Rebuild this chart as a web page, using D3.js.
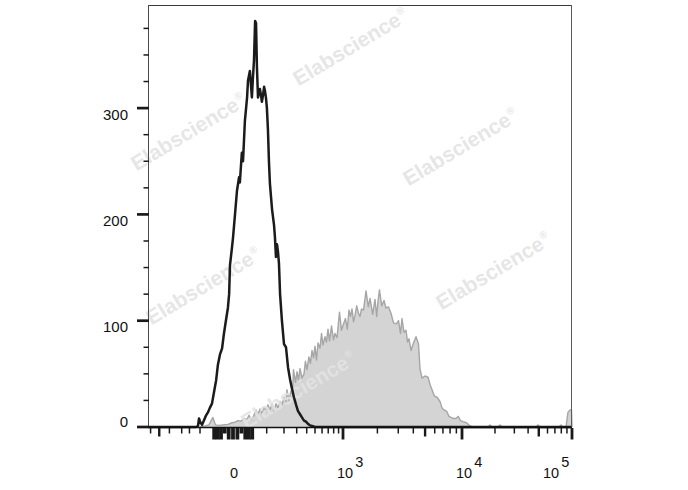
<!DOCTYPE html>
<html>
<head>
<meta charset="utf-8">
<script src="https://cdn.jsdelivr.net/npm/d3@7"></script>
<style>
  body { margin: 0; background: #fff; }
  svg { display: block; }
  text { font-family: "Liberation Sans", Arial, Helvetica, sans-serif; }
</style>
</head>
<body>
<svg id="chart" width="688" height="490"></svg>
<script>
// ---------------- data ----------------
// Isotype control (black outline histogram): fluorescence value, event count
const isotypeX = [-620,-134,-116,-108,-100,-92,-85,-77,-70,-64,-57,-51,-44,-39,-33,-27,-22,-17,-12,-9,-7,-2,0,4.5,9,14,16,21,24,29,35,37.6,43,49,52,55.5,59,62,65,68.5,72,75,79,82,86,90,93.5,97,101,106,111,116,127,138,143,149,155,161,167,174,186,200,214,229,244,260,276,294,312,331,350,371,392,414,438,462,500,100000];
const isotypeCount = [0,0,1,8,5,2,6,11,14,18,22,32,44,58,68,74,88,100,112,125,152,170,178,200,222,235,230,258,250,288,310,326,335,310,328,345,382,380,338,310,314,318,312,306,312,320,316,310,300,280,250,229,205,190,179,160,172,165,154,125,100,78,75,56,45,36,28,21,15,12,9,6,5,3,1.5,1,0,0];

// Stained sample (grey filled histogram): fluorescence value, event count
const stainedX = [-100,-81,-67,-54,-46,-36,-24.5,-11.7,-2.3,4.5,11.5,19,26.6,34.8,40.4,46.3,53.9,61.9,68.5,75.3,82.4,89.7,99.2,106,116,127,138,149,161,174,186.5,200,214,221,236,252,264,272,289.5,303,316.5,331,350,371,386,403,425,443,462,481,500,520,541,569,592,614,646,671,696,723,759,797,826,867,920,965,1010,1053,1093,1132,1167,1204,1241,1280,1325,1374,1416,1459,1519,1597,1671,1729,1823,1908,1973,2024,2084,2176,2276,2366,2484,2607,2736,2899,3013,3131,3222,3348,3479,3580,3684,3827,4014,4209,4414,4541,4717,4992,5283,5487,5698,5973,6260,6624,6877,7140,7483,7842,8142,8532,8940,9333,9725,10213,10995,11836,12608,17280,18020,18792,21310,22222,23172,47173,49188,51287,76253,79501,82889,88242,91970,95921,99000,100000];
const stainedCount = [0,1,2,9,2,1.5,2,2.5,4,4.5,6,5.5,8,7,11,7,10,16,12,17,13,19,15,21,16,22,15,22,18,24,21,28,24,35,25,34,31,54,42,52,44,55,46,50,62,54,66,60,72,65,76,63,79,74,88,77,85,80,92,81,95,82,88,84,108,91,97,102,92,110,104,111,99,105,114,107,104,111,110,128,113,121,106,120,104,118,129,114,119,112,113,107,98,97,100,88,102,89,91,80,83,72,79,85,78,55,46,48,47,40,35,29,28,24,18,16,15,10,9,8,8,10,6,5,4,1,0,0,2,0,0,2,0,0,2,0,0,2,0,0,14,16,16,0];

// Axis ticks and labels
const yMajorTicks = [0, 100, 200, 300];
const yMinorTicks = [25, 50, 75, 125, 150, 175, 225, 250, 275, 325, 350, 375];
const xLabelValues = [0, 1000, 10000, 100000];
const xLabelExponents = ["", "3", "4", "5"];
const xMajorTicks = [1000, 10000, 100000];
const xMediumTicks = [-500, 5000, 50000];
const xMinorTicks = [-600, -400, -300, -200, -100,
  100, 200, 300, 400, 500, 600, 700, 800, 900,
  2000, 3000, 4000, 6000, 7000, 8000, 9000,
  20000, 30000, 40000, 60000, 70000, 80000, 90000];
const xZeroTallTicks = [-50, -40, -30, -10, 0, 10, 30, 40, 50];
const xZeroShortTicks = [-20, 20];
const watermarkText = "Elabscience";

// ---------------- layout ----------------
const L = 149, R = 572, T = 5, B = 427;
const svg = d3.select("#chart");

// biexponential-like display: symlog transform, piecewise fitted to the axis
const x = d3.scaleSymlog().constant(130)
  .domain([-620, -300, -100, 0, 100, 1e3, 1e4, 1e5])
  .range([L, 181.7, 200, 233, 266.7, 343, 462, R]);
const y = d3.scaleLinear().domain([0, 397]).range([B, T]);

// ---------------- grey histogram ----------------
const stained = stainedX.map((v, i) => [v, stainedCount[i]]);
svg.append("path")
  .datum(stained)
  .attr("d", d3.area().x(d => x(d[0])).y0(y(0)).y1(d => y(d[1])))
  .attr("fill", "#d4d4d4");
svg.append("path")
  .datum(stained)
  .attr("d", d3.line().x(d => x(d[0])).y(d => y(d[1])))
  .attr("fill", "none")
  .attr("stroke", "#a6a6a6")
  .attr("stroke-width", 1.4)
  .attr("stroke-linejoin", "round");

// ---------------- watermarks ----------------
const wmPos = [[354, 53], [192, 138], [464, 153], [207, 292], [497, 277], [302, 396]];
wmPos.forEach(p => {
  const t = svg.append("text")
    .attr("transform", `translate(${p[0]},${p[1]}) rotate(-31)`)
    .attr("text-anchor", "middle")
    .attr("font-size", 21)
    .attr("font-weight", "bold")
    .attr("fill", "#e3e3e3")
    .attr("fill-opacity", 0.9);
  t.append("tspan").text(watermarkText);
  t.append("tspan").attr("font-size", 10).attr("dy", -9).attr("dx", 1).text("®");
});

// ---------------- black histogram ----------------
const isotype = isotypeX.map((v, i) => [v, isotypeCount[i]]);
svg.append("path")
  .datum(isotype)
  .attr("d", d3.line().x(d => x(d[0])).y(d => y(d[1])))
  .attr("fill", "none")
  .attr("stroke", "#1b1b1b")
  .attr("stroke-width", 2.5)
  .attr("stroke-linejoin", "round");

// ---------------- frame ----------------
svg.append("line").attr("x1", L).attr("x2", R).attr("y1", T + 0.5).attr("y2", T + 0.5)
  .attr("stroke", "#3a3a3a").attr("stroke-width", 1);
svg.append("line").attr("x1", R - 0.5).attr("x2", R - 0.5).attr("y1", T).attr("y2", B)
  .attr("stroke", "#5a5a5a").attr("stroke-width", 1);
svg.append("line").attr("x1", L - 0.5).attr("x2", L - 0.5).attr("y1", T).attr("y2", B + 1)
  .attr("stroke", "#4a4a4a").attr("stroke-width", 1);
svg.append("line").attr("x1", L - 1).attr("x2", R).attr("y1", B + 0.5).attr("y2", B + 0.5)
  .attr("stroke", "#111").attr("stroke-width", 1.6);

// ---------------- y ticks ----------------
svg.selectAll("line.ymaj").data(yMajorTicks).join("line")
  .attr("x1", L - 12).attr("x2", L).attr("y1", d => y(d)).attr("y2", d => y(d))
  .attr("stroke", "#1a1a1a").attr("stroke-width", 2.7);
svg.selectAll("line.ymin").data(yMinorTicks).join("line")
  .attr("x1", L - 5.5).attr("x2", L).attr("y1", d => y(d)).attr("y2", d => y(d))
  .attr("stroke", "#1a1a1a").attr("stroke-width", 1.5);
svg.selectAll("text.ylab").data(yMajorTicks).join("text")
  .attr("x", 128)
  .attr("y", d => y(d) + (d === 0 ? 0 : 11.5))
  .attr("text-anchor", "end")
  .attr("font-size", 15)
  .attr("fill", "#111")
  .text(d => d);

// ---------------- x ticks ----------------
function xTicks(vals, len, w) {
  svg.append("g").selectAll("line").data(vals).join("line")
    .attr("x1", d => x(d)).attr("x2", d => x(d))
    .attr("y1", B + 1).attr("y2", B + 1 + len)
    .attr("stroke", "#1a1a1a").attr("stroke-width", w);
}
xTicks(xMinorTicks, 5.5, 1.5);
xTicks(xMediumTicks, 8.5, 2.4);
xTicks(xMajorTicks, 11.5, 2.8);
xTicks(xZeroTallTicks, 11.5, 3.8);
xTicks(xZeroShortTicks, 5.5, 3.8);

// ---------------- x labels ----------------
xLabelValues.forEach((v, i) => {
  const exp = xLabelExponents[i];
  if (!exp) {
    svg.append("text").attr("x", x(v) + 1).attr("y", 478)
      .attr("text-anchor", "middle").attr("font-size", 14.5).attr("fill", "#111")
      .text(String(v));
  } else {
    const start = Math.min(x(v) - 6, R - 29);
    const t = svg.append("text").attr("x", start).attr("y", 478)
      .attr("font-size", 14.5).attr("fill", "#111");
    t.append("tspan").text("10");
    t.append("tspan").attr("dx", 2).attr("dy", -11).text(exp);
  }
});
</script>
</body>
</html>
